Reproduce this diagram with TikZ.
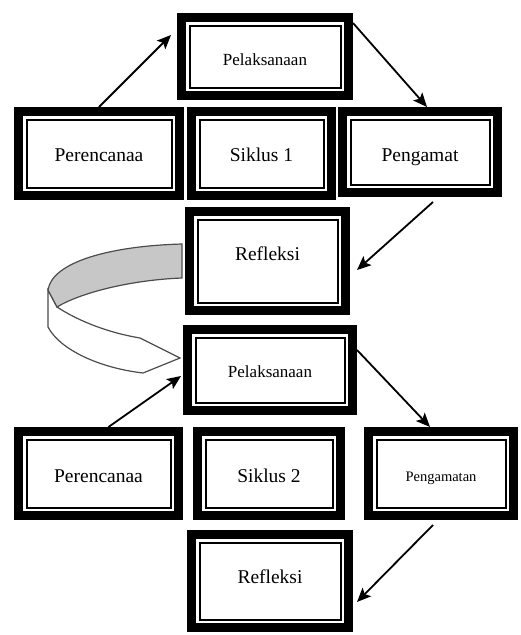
\documentclass[tikz,border=0pt]{standalone}
\usepackage{fontspec}
\setmainfont{Liberation Serif}
\usetikzlibrary{arrows.meta}
\colorlet{ribbongray}{black!22}
\colorlet{ribbonline}{black!70}
\tikzset{
    stage/.style={draw, line width=9pt, inner sep=0pt, text height=13pt, text depth=0pt,
        font=\fontsize{19.5}{22}\selectfont,
        path picture={\draw[line width=2pt] ([xshift=8pt,yshift=-8pt]path picture bounding box.north west)
            rectangle ([xshift=-8pt,yshift=8pt]path picture bounding box.south east);}},
    flow/.style={line width=1.8pt, -{Stealth[length=14pt,width=12pt,inset=3pt]}}
}

\begin{document}
\begin{tikzpicture}[x=1pt,y=-1pt]
        \path[use as bounding box] (0,0) rectangle (520,635);

        \node (P1) at (265,56.5) [stage, minimum width=167pt, minimum height=78pt, text height=17pt, font=\fontsize{17}{20}\selectfont] {Pelaksanaan};
        \node (Per1) at (99,153.5) [stage, minimum width=161pt, minimum height=84pt, text height=15pt] {Perencanaa};
        \node (Sik1) at (261.5,153.5) [stage, minimum width=140pt, minimum height=84pt, text height=15pt] {Siklus 1};
        \node (Peng1) at (420,152) [stage, minimum width=155pt, minimum height=81pt, text height=19pt] {Pengamat};
        \node (Ref1) at (267.5,261) [stage, minimum width=156pt, minimum height=99pt, text depth=14pt] {Refleksi};

        \node (P2) at (270,370) [stage, minimum width=165pt, minimum height=81pt, text height=15pt, font=\fontsize{17}{20}\selectfont] {Pelaksanaan};
        \node (Per2) at (98.5,473.5) [stage, minimum width=160pt, minimum height=84pt, text height=17pt] {Perencanaa};
        \node (Sik2) at (269,473.5) [stage, minimum width=143pt, minimum height=84pt, text height=17pt] {Siklus 2};
        \node (Peng2) at (441,473.5) [stage, minimum width=145pt, minimum height=84pt, text height=16.6pt, font=\fontsize{14.5}{17}\selectfont] {Pengamatan};
        \node (Ref2) at (270,581) [stage, minimum width=157pt, minimum height=93pt, text depth=8pt] {Refleksi};

        \draw[flow] (Per1.north) -- ([xshift=-6pt,yshift=21.5pt]P1.west);
        \draw[flow] ([yshift=33.5pt]P1.east) -- ([xshift=7pt]Peng1.north);
        \draw[flow] ([xshift=13pt,yshift=-5pt]Peng1.south) -- ([xshift=7pt,yshift=-9pt]Ref1.east);

        \filldraw[fill=white, draw=ribbonline, line width=1.2pt] (48,290) -- (48,327)
            .. controls (60,350) and (100,368) .. (143,373) -- (180,358) -- (140,338)
            .. controls (110,333) and (80,322) .. (57,307) -- cycle;
        \filldraw[fill=ribbongray, draw=ribbonline, line width=1.2pt] (182,244)
            .. controls (110,246) and (52,262) .. (48,290) -- (57,307)
            .. controls (80,293) and (130,280) .. (182,278) -- cycle;

        \draw[flow] ([xshift=10pt]Per2.north) -- ([xshift=-2pt,yshift=-6pt]P2.west);
        \draw[flow] ([yshift=20pt]P2.east) -- ([xshift=-11pt]Peng2.north);
        \draw[flow] ([xshift=-8pt,yshift=-5pt]Peng2.south) -- ([xshift=4pt,yshift=-21pt]Ref2.east);
    \end{tikzpicture}
\end{document}
